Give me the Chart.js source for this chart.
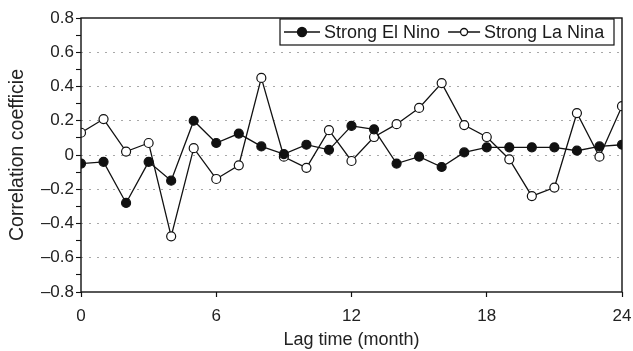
<!DOCTYPE html>
<html>
<head>
<meta charset="utf-8">
<script src="https://cdn.jsdelivr.net/npm/chart.js@4"></script>
<style>
  html, body { margin: 0; padding: 0; background: #fff; }
  #chart { display: block; }
</style>
</head>
<body>
<canvas id="chart" width="633" height="351"></canvas>
<script>
// lag in months
const lags = [0,1,2,3,4,5,6,7,8,9,10,11,12,13,14,15,16,17,18,19,20,21,22,23,24]
const elNino = [-0.05,-0.04,-0.28,-0.04,-0.15,0.20,0.07,0.125,0.05,0.005,0.06,0.03,0.17,0.15,-0.05,-0.01,-0.07,0.015,0.045,0.045,0.045,0.045,0.025,0.05,0.06]
const laNina = [0.13,0.21,0.02,0.07,-0.475,0.04,-0.14,-0.06,0.45,-0.01,-0.075,0.145,-0.035,0.105,0.18,0.275,0.42,0.175,0.105,-0.025,-0.24,-0.19,0.245,-0.01,0.285]
const seriesNames = ['Strong El Nino', 'Strong La Nina']
const xTicks = [0, 6, 12, 18, 24]

const font = 'Liberation Sans, Arial, sans-serif'

// frame around the plot + boxed legend in the top right corner
const framePlugin = {
  id: 'frame',
  afterDraw(chart) {
    const ctx = chart.ctx
    const a = chart.chartArea
    ctx.save()
    ctx.strokeStyle = '#111'
    ctx.lineWidth = 1.4
    ctx.strokeRect(a.left, a.top, a.right - a.left, a.bottom - a.top)

    // legend
    const boxL = 280, boxT = 19, boxR = 614, boxB = 45
    ctx.fillStyle = '#fff'
    ctx.fillRect(boxL, boxT, boxR - boxL, boxB - boxT)
    ctx.lineWidth = 1.2
    ctx.strokeRect(boxL, boxT, boxR - boxL, boxB - boxT)
    ctx.font = '18px ' + font
    ctx.textBaseline = 'middle'
    const cy = (boxT + boxB) / 2
    let x = boxL + 4
    chart.data.datasets.forEach(function(ds, i) {
      const len = i === 0 ? 36 : 32
      ctx.strokeStyle = '#111'
      ctx.lineWidth = 1.3
      ctx.beginPath()
      ctx.moveTo(x, cy)
      ctx.lineTo(x + len, cy)
      ctx.stroke()
      ctx.beginPath()
      ctx.arc(x + len / 2, cy, i === 0 ? 4.5 : 3.5, 0, Math.PI * 2)
      ctx.fillStyle = ds.pointBackgroundColor
      ctx.fill()
      ctx.stroke()
      ctx.fillStyle = '#1a1a1a'
      ctx.fillText(ds.label, x + len + 4, cy + 1)
      x += len + 4 + ctx.measureText(ds.label).width + 8
    })
    ctx.restore()
  }
}

new Chart(document.getElementById('chart'), {
  type: 'line',
  data: {
    labels: lags,
    datasets: [{
      label: seriesNames[0],
      data: lags.map((l, i) => ({x: l, y: elNino[i]})),
      borderColor: '#111',
      borderWidth: 1.3,
      pointRadius: 4.5,
      pointBackgroundColor: '#111',
      pointBorderColor: '#111',
      pointBorderWidth: 1.2,
      tension: 0
    }, {
      label: seriesNames[1],
      data: lags.map((l, i) => ({x: l, y: laNina[i]})),
      borderColor: '#111',
      borderWidth: 1.3,
      pointRadius: 4.5,
      pointBackgroundColor: '#fff',
      pointBorderColor: '#111',
      pointBorderWidth: 1.2,
      tension: 0
    }]
  },
  options: {
    responsive: false,
    animation: false,
    layout: { padding: { left: 0, top: 18, right: 11, bottom: 0 } },
    plugins: { legend: { display: false }, tooltip: { enabled: false } },
    scales: {
      x: {
        type: 'linear',
        min: 0,
        max: 24,
        afterBuildTicks(axis) { axis.ticks = xTicks.map(v => ({value: v})) },
        afterFit(axis) {
          axis.height = 59
          // let the "24" label hang over the right padding
          axis.paddingRight = 0
          axis.paddingLeft = 0
        },
        grid: { drawOnChartArea: false, tickLength: 5, tickColor: '#111', tickWidth: 1.2 },
        border: { display: false },
        ticks: { color: '#222', font: { family: font, size: 17 }, padding: 9, maxRotation: 0 },
        title: { display: true, text: 'Lag time (month)', color: '#222', font: { family: font, size: 18 }, padding: { top: 3, bottom: 0 } }
      },
      y: {
        min: -0.8,
        max: 0.8,
        afterBuildTicks(axis) {
          const t = []
          for (let i = -8; i <= 8; i++) t.push({value: i / 10})
          axis.ticks = t
        },
        afterFit(axis) { axis.width = 81 },
        grid: {
          color(c) {
            const k = Math.round(c.tick.value * 10)
            return (k % 2 === 0 && Math.abs(k) < 8) ? '#a8a8a8' : 'rgba(0,0,0,0)'
          },
          lineWidth: 1,
          tickLength: 5,
          tickColor: '#111',
          tickBorderDash: [],
          tickWidth: 1.1
        },
        // in v4 the grid line dash lives on the border options
        border: { display: false, dash: [2, 6] },
        ticks: {
          color: '#222',
          font: { family: font, size: 17 },
          padding: 2,
          autoSkip: false,
          callback(v) {
            const k = Math.round(v * 10)
            if (k % 2 !== 0) return ''
            if (k === 0) return '0'
            return (k < 0 ? '\u2013' : '') + Math.abs(k / 10).toFixed(1)
          }
        },
        title: { display: true, text: 'Correlation coefficie', color: '#222', font: { family: font, size: 19.5 }, padding: { top: 6, bottom: 0 } }
      }
    }
  },
  plugins: [framePlugin]
})
</script>
</body>
</html>
